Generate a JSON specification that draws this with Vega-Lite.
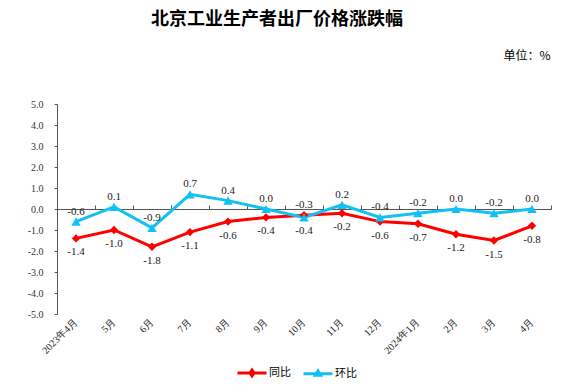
{
  "$schema": "https://vega.github.io/schema/vega-lite/v6.json",
  "width": 494,
  "height": 210,
  "autosize": {"type": "none"},
  "padding": {"left": 57, "top": 104, "right": 17, "bottom": 76},
  "background": "white",
  "title": {
    "text": "北京工业生产者出厂价格涨跌幅",
    "font": "Noto Sans CJK SC",
    "fontSize": 18,
    "fontWeight": "bold",
    "color": "#000000",
    "anchor": "middle",
    "frame": "group",
    "dx": -27,
    "offset": 20
  },
  "config": {
    "view": {"stroke": null},
    "font": "Liberation Serif",
    "locale": {"number": {"decimal": ".", "thousands": ",", "grouping": [3], "currency": ["", ""], "minus": "-"}}
  },
  "data": {
    "values": [
      {"month": "2023年4月", "series": "同比", "value": -1.4},
      {"month": "5月", "series": "同比", "value": -1.0},
      {"month": "6月", "series": "同比", "value": -1.8},
      {"month": "7月", "series": "同比", "value": -1.1},
      {"month": "8月", "series": "同比", "value": -0.6},
      {"month": "9月", "series": "同比", "value": -0.4},
      {"month": "10月", "series": "同比", "value": -0.3},
      {"month": "11月", "series": "同比", "value": -0.2},
      {"month": "12月", "series": "同比", "value": -0.6},
      {"month": "2024年1月", "series": "同比", "value": -0.7},
      {"month": "2月", "series": "同比", "value": -1.2},
      {"month": "3月", "series": "同比", "value": -1.5},
      {"month": "4月", "series": "同比", "value": -0.8},
      {"month": "2023年4月", "series": "环比", "value": -0.6},
      {"month": "5月", "series": "环比", "value": 0.1},
      {"month": "6月", "series": "环比", "value": -0.9},
      {"month": "7月", "series": "环比", "value": 0.7},
      {"month": "8月", "series": "环比", "value": 0.4},
      {"month": "9月", "series": "环比", "value": 0.0},
      {"month": "10月", "series": "环比", "value": -0.4},
      {"month": "11月", "series": "环比", "value": 0.2},
      {"month": "12月", "series": "环比", "value": -0.4},
      {"month": "2024年1月", "series": "环比", "value": -0.2},
      {"month": "2月", "series": "环比", "value": 0.0},
      {"month": "3月", "series": "环比", "value": -0.2},
      {"month": "4月", "series": "环比", "value": 0.0}
    ]
  },
  "resolve": {"axis": {"x": "independent"}},
  "encoding": {
    "y": {
      "field": "value", "type": "quantitative",
      "scale": {"domain": [-5, 5], "nice": false, "zero": false},
      "axis": {
        "values": [-5, -4, -3, -2, -1, 0, 1, 2, 3, 4, 5],
        "format": ".1f", "grid": false, "labelOverlap": false,
        "domainColor": "#555555", "tickColor": "#555555", "tickSize": 3,
        "labelPadding": 11, "labelFontSize": 10, "labelColor": "#333333",
        "labelFont": "Liberation Serif",
        "title": "单位：%", "titleAngle": 0, "titleX": 446, "titleY": -49,
        "titleAlign": "left", "titleBaseline": "middle",
        "titleFont": "Noto Sans CJK SC", "titleFontSize": 12, "titleFontWeight": "normal",
        "titleColor": "#000000"
      }
    }
  },
  "layer": [
    {
      "mark": {"type": "line", "strokeWidth": 3},
      "encoding": {
        "x": {
          "field": "month", "type": "nominal",
          "sort": ["2023年4月","5月","6月","7月","8月","9月","10月","11月","12月","2024年1月","2月","3月","4月"],
          "scale": {"paddingInner": 0, "paddingOuter": 0},
          "axis": {
            "orient": "bottom", "title": null, "domain": false, "ticks": false, "grid": false,
            "labelAngle": -45, "labelAlign": "right", "labelBaseline": "middle",
            "labelPadding": 6, "labelFontSize": 10, "labelColor": "#222222",
            "labelFont": "Liberation Serif"
          }
        },
        "color": {
          "field": "series", "type": "nominal",
          "scale": {"domain": ["同比", "环比"], "range": ["#FF0000", "#11C1F1"]},
          "legend": {
            "title": null, "orient": "none", "direction": "horizontal",
            "legendX": 179, "legendY": 253,
            "padding": 0, "symbolSize": 841, "symbolStrokeWidth": 3,
            "labelOffset": 1, "columnPadding": 6,
            "labelFont": "Noto Sans CJK SC", "labelFontSize": 11, "labelColor": "#000000",
            "encode": {
              "symbols": {
                "update": {
                  "shape": {"signal": "datum.value === '同比' ? 'M-1,0L1,0M0,-0.2L0.14,0L0,0.2L-0.14,0Z' : 'M-1,0L1,0M0,-0.18L0.18,0.12L-0.18,0.12Z'"},
                  "fill": {"scale": "color", "field": "value"},
                  "stroke": {"scale": "color", "field": "value"},
                  "strokeWidth": {"value": 3}
                }
              }
            }
          }
        }
      }
    },
    {
      "transform": [{"filter": "datum.series === '同比'"}],
      "mark": {"type": "point", "filled": true, "opacity": 1, "shape": "diamond", "size": 70, "color": "#FF0000"},
      "encoding": {
        "x": {"field": "month", "type": "nominal", "sort": ["2023年4月","5月","6月","7月","8月","9月","10月","11月","12月","2024年1月","2月","3月","4月"], "axis": null}
      }
    },
    {
      "transform": [{"filter": "datum.series === '环比'"}],
      "mark": {"type": "point", "filled": true, "opacity": 1, "shape": "triangle-up", "size": 90, "color": "#11C1F1"},
      "encoding": {
        "x": {"field": "month", "type": "nominal", "sort": ["2023年4月","5月","6月","7月","8月","9月","10月","11月","12月","2024年1月","2月","3月","4月"], "axis": null}
      }
    },
    {
      "transform": [{"filter": "(datum.series === '同比' && datum.month !== '10月') || (datum.series === '环比' && datum.month === '10月')"}],
      "mark": {"type": "text", "baseline": "middle", "dy": 14, "fontSize": 11, "font": "Liberation Serif", "color": "#222222"},
      "encoding": {
        "x": {"field": "month", "type": "nominal", "sort": ["2023年4月","5月","6月","7月","8月","9月","10月","11月","12月","2024年1月","2月","3月","4月"], "axis": null},
        "text": {"field": "value", "type": "quantitative", "format": ".1f"}
      }
    },
    {
      "transform": [{"filter": "!((datum.series === '同比' && datum.month !== '10月') || (datum.series === '环比' && datum.month === '10月'))"}],
      "mark": {"type": "text", "baseline": "middle", "dy": -10, "fontSize": 11, "font": "Liberation Serif", "color": "#222222"},
      "encoding": {
        "x": {
          "field": "month", "type": "nominal",
          "sort": ["2023年4月","5月","6月","7月","8月","9月","10月","11月","12月","2024年1月","2月","3月","4月"],
          "axis": {
            "orient": "top", "offset": -105, "title": null, "labels": false, "grid": false,
            "domain": true, "domainColor": "#555555", "domainWidth": 1,
            "ticks": true, "tickColor": "#555555", "tickSize": 4, "tickBand": "extent"
          }
        },
        "text": {"field": "value", "type": "quantitative", "format": ".1f"}
      }
    }
  ]
}
